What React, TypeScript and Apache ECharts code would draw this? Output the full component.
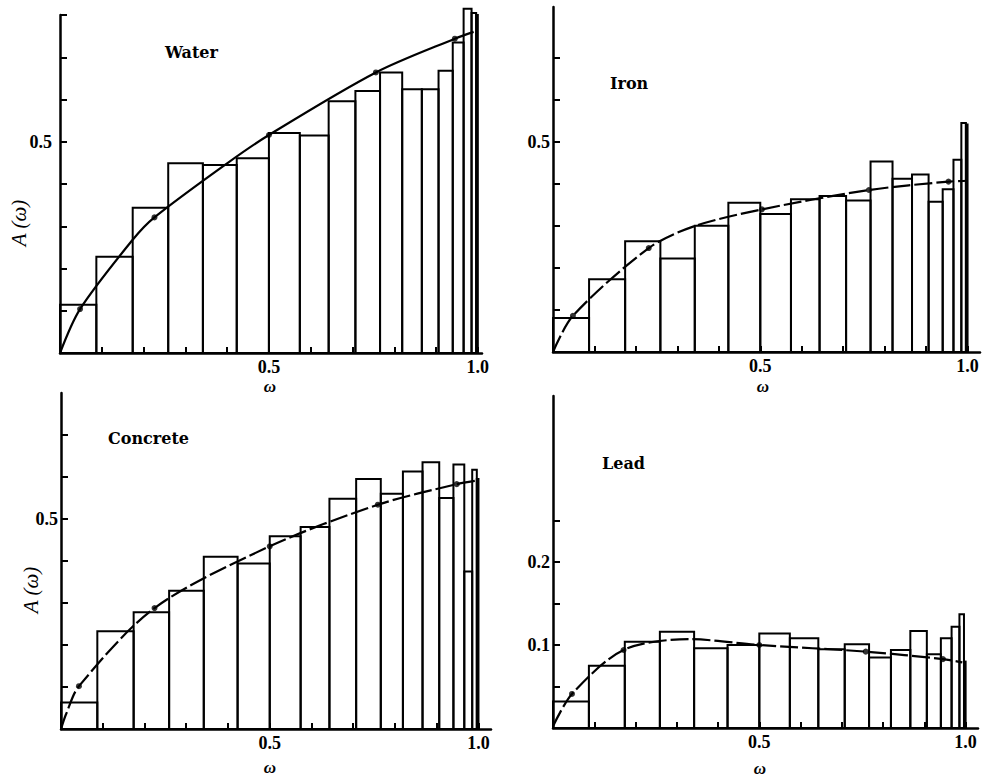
import React, { useEffect, useRef } from "react";
import * as echarts from "echarts";

// Bin edges in ω (equal 5° steps in angle)
const binEdges = [0, 0.087, 0.174, 0.259, 0.342, 0.423, 0.5, 0.574, 0.643, 0.707, 0.766, 0.819, 0.866, 0.906, 0.94, 0.966, 0.985, 0.996, 1.0];

const waterBars = [0.114, 0.228, 0.344, 0.449, 0.445, 0.461, 0.521, 0.515, 0.596, 0.62, 0.664, 0.624, 0.624, 0.668, 0.735, 0.815, 0.805, 0.8];
const ironBars = [0.081, 0.173, 0.263, 0.222, 0.3, 0.355, 0.328, 0.363, 0.371, 0.36, 0.453, 0.412, 0.422, 0.357, 0.387, 0.457, 0.544, 0.541];
const concreteBars = [0.063, 0.233, 0.278, 0.329, 0.41, 0.394, 0.459, 0.481, 0.548, 0.595, 0.56, 0.613, 0.635, 0.55, 0.63, 0.375, 0.617, 0.595];
const leadBars = [0.032, 0.075, 0.104, 0.116, 0.096, 0.1, 0.114, 0.108, 0.095, 0.101, 0.085, 0.094, 0.117, 0.089, 0.108, 0.122, 0.137, 0.08];

const waterCurve = [[0, 0], [0.048, 0.104], [0.174, 0.268], [0.226, 0.321], [0.4, 0.449], [0.5, 0.516], [0.756, 0.664], [0.945, 0.744], [0.99, 0.76]];
const ironCurve = [[0, 0], [0.048, 0.086], [0.231, 0.247], [0.338, 0.298], [0.504, 0.339], [0.762, 0.385], [0.954, 0.405], [1.0, 0.407]];
const concreteCurve = [[0, 0], [0.012, 0.035], [0.043, 0.102], [0.224, 0.288], [0.5, 0.435], [0.759, 0.534], [0.948, 0.583], [1.0, 0.592]];
const leadCurve = [[0, 0.002], [0.046, 0.041], [0.171, 0.094], [0.33, 0.107], [0.5, 0.1], [0.758, 0.092], [0.945, 0.083], [0.992, 0.079]];

const waterDots = [[0.048, 0.104], [0.226, 0.321], [0.5, 0.516], [0.756, 0.664], [0.945, 0.744]];
const ironDots = [[0.048, 0.086], [0.231, 0.247], [0.504, 0.339], [0.762, 0.385], [0.954, 0.405]];
const concreteDots = [[0.043, 0.102], [0.224, 0.288], [0.5, 0.435], [0.759, 0.534], [0.948, 0.583]];
const leadDots = [[0.046, 0.041], [0.171, 0.094], [0.5, 0.1], [0.758, 0.092], [0.945, 0.083]];

const panelTitles = ["Water", "Iron", "Concrete", "Lead"];
const xTickValues = [0.1, 0.2, 0.3, 0.4, 0.5, 0.6, 0.7, 0.8, 0.9, 1.0];
const xLabelValues = [0.5, 1.0];
const yTicksMain = [0.1, 0.2, 0.3, 0.4, 0.5, 0.6, 0.7];
const yTicksWater = [0.1, 0.2, 0.3, 0.4, 0.5, 0.6, 0.7, 0.8];
const yLabelsMain = [0.5];
const yTicksLead = [0.05, 0.1, 0.15, 0.2, 0.25];
const yLabelsLead = [0.1, 0.2];
const yAxisTitle = "A (ω)";
const xAxisTitle = "ω";

const SERIF = "'Liberation Serif', 'DejaVu Serif', serif";
const TITLE_FONT = "'DejaVu Serif', 'Liberation Serif', serif";

function buildBars(heights: number[]) {
  return heights.map((h, i) => [binEdges[i], binEdges[i + 1], h]);
}

function xAxisCfg(gridIndex: number, max: number) {
  return {
    type: "value",
    gridIndex,
    min: 0,
    max,
    axisLine: { show: true, onZero: false, lineStyle: { color: "#000", width: 2.5 } },
    axisTick: { show: true, inside: true, length: 6, customValues: xTickValues, lineStyle: { color: "#000", width: 2 } },
    axisLabel: {
      show: true,
      customValues: xLabelValues,
      formatter: (v: number) => v.toFixed(1),
      color: "#000",
      fontFamily: SERIF,
      fontWeight: "bold",
      fontSize: 18,
      lineHeight: 13,
      margin: 7,
    },
    splitLine: { show: false },
  };
}

function yAxisCfg(gridIndex: number, max: number, ticks: number[], labels: number[], margin: number) {
  return {
    type: "value",
    gridIndex,
    min: 0,
    max,
    axisLine: { show: true, onZero: false, lineStyle: { color: "#000", width: 2.5 } },
    axisTick: { show: true, inside: true, length: 7, customValues: ticks, lineStyle: { color: "#000", width: 2 } },
    axisLabel: {
      show: true,
      customValues: labels,
      formatter: (v: number) => v.toFixed(1),
      color: "#000",
      fontFamily: SERIF,
      fontWeight: "bold",
      fontSize: 18,
      lineHeight: 13,
      margin,
    },
    splitLine: { show: false },
  };
}

function barSeries(idx: number, heights: number[]) {
  return {
    type: "custom",
    xAxisIndex: idx,
    yAxisIndex: idx,
    clip: false,
    z: 2,
    encode: { x: [0, 1], y: 2 },
    data: buildBars(heights),
    renderItem: (params: any, api: any) => {
      const p0 = api.coord([api.value(0), api.value(2)]);
      const p1 = api.coord([api.value(1), 0]);
      return {
        type: "rect",
        shape: { x: p0[0], y: p0[1], width: p1[0] - p0[0], height: p1[1] - p0[1] },
        style: { fill: "none", stroke: "#000", lineWidth: 2 },
      };
    },
  };
}

function curveSeries(idx: number, data: number[][], dashed: boolean) {
  return {
    type: "line",
    xAxisIndex: idx,
    yAxisIndex: idx,
    data,
    smooth: 0.3,
    showSymbol: false,
    symbol: "none",
    z: 3,
    lineStyle: { color: "#000", width: 2.2, type: dashed ? [18, 4] : "solid" },
  };
}

function dotSeries(idx: number, data: number[][]) {
  return {
    type: "scatter",
    xAxisIndex: idx,
    yAxisIndex: idx,
    data,
    symbol: "circle",
    symbolSize: 6,
    z: 4,
    itemStyle: { color: "#000" },
  };
}

export default function App() {
  const ref = useRef<HTMLDivElement>(null);
  useEffect(() => {
    if (!ref.current) return;
    const chart = echarts.init(ref.current, null, { renderer: "svg" });
    const titleStyle = { fill: "#000", fontFamily: TITLE_FONT, fontWeight: "bold", fontSize: 16 };
    const omegaStyle = { text: xAxisTitle, fill: "#000", fontFamily: SERIF, fontStyle: "italic", fontWeight: "bold", fontSize: 17, lineHeight: 11, align: "center", verticalAlign: "middle" };
    const aStyle = { text: yAxisTitle, fill: "#000", fontFamily: SERIF, fontStyle: "italic", fontSize: 21, align: "center", verticalAlign: "middle" };
    const option: any = {
      animation: false,
      backgroundColor: "#fff",
      grid: [
        { left: 60, top: 15, width: 422, height: 338 },
        { left: 553, top: 7, width: 427, height: 345 },
        { left: 61, top: 393, width: 430, height: 336 },
        { left: 553, top: 396, width: 425, height: 332 },
      ],
      xAxis: [xAxisCfg(0, 1.01), xAxisCfg(1, 1.03), xAxisCfg(2, 1.03), xAxisCfg(3, 1.03)],
      yAxis: [
        yAxisCfg(0, 0.8, yTicksWater, yLabelsMain, 8),
        yAxisCfg(1, 0.82, yTicksMain, yLabelsMain, 3),
        yAxisCfg(2, 0.8, yTicksMain, yLabelsMain, 3),
        yAxisCfg(3, 0.4, yTicksLead, yLabelsLead, 3),
      ],
      series: [
        barSeries(0, waterBars),
        curveSeries(0, waterCurve, false),
        dotSeries(0, waterDots),
        barSeries(1, ironBars),
        curveSeries(1, ironCurve, true),
        dotSeries(1, ironDots),
        barSeries(2, concreteBars),
        curveSeries(2, concreteCurve, true),
        dotSeries(2, concreteDots),
        barSeries(3, leadBars),
        curveSeries(3, leadCurve, true),
        dotSeries(3, leadDots),
      ],
      graphic: [
        { type: "text", x: 165, y: 52, style: { ...titleStyle, text: panelTitles[0], verticalAlign: "middle" } },
        { type: "text", x: 610, y: 83, style: { ...titleStyle, text: panelTitles[1], verticalAlign: "middle" } },
        { type: "text", x: 108, y: 438, style: { ...titleStyle, text: panelTitles[2], verticalAlign: "middle" } },
        { type: "text", x: 602, y: 463, style: { ...titleStyle, text: panelTitles[3], verticalAlign: "middle" } },
        { type: "text", x: 19, y: 223, rotation: Math.PI / 2, style: { ...aStyle } },
        { type: "text", x: 31, y: 590, rotation: Math.PI / 2, style: { ...aStyle } },
        { type: "text", x: 270, y: 386, style: { ...omegaStyle } },
        { type: "text", x: 763, y: 386, style: { ...omegaStyle } },
        { type: "text", x: 270, y: 767, style: { ...omegaStyle } },
        { type: "text", x: 760, y: 768, style: { ...omegaStyle } },
      ],
    };
    chart.setOption(option);
    return () => chart.dispose();
  }, []);
  return (
    <div
      ref={ref}
      style={{ position: "fixed", left: 0, top: 0, width: 984, height: 776, background: "#fff" }}
    />
  );
}
